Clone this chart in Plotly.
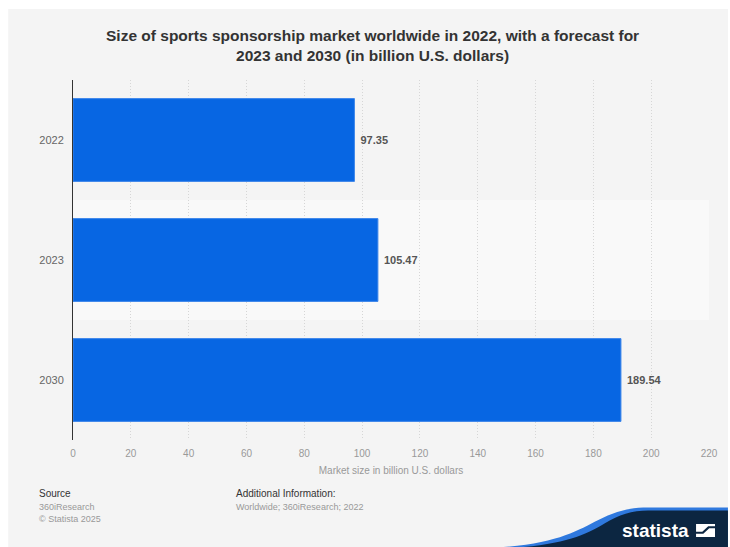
import plotly.graph_objects as go

# Market size data (billion U.S. dollars)
years = ["2022", "2023", "2030"]
market_size = [97.35, 105.47, 189.54]
x_ticks = [0, 20, 40, 60, 80, 100, 120, 140, 160, 180, 200, 220]

W, H = 730, 547
ML, MR, MT, MB = 73, 19, 80, 107
PW, PH = W - ML - MR, H - MT - MB


def px(x):
    return (x - ML) / PW


def py(y):
    return (H - MB - y) / PH


FONT = "Liberation Sans, Arial, sans-serif"
BG = "#f4f4f4"
NAVY = "#0c2641"

fig = go.Figure()
fig.add_trace(go.Bar(
    y=years,
    x=market_size,
    orientation="h",
    width=0.69,
    marker=dict(color="#0766e3", line=dict(color="#3d86ea", width=1)),
    text=market_size,
    texttemplate="<b> %{x:.2f}</b>",
    textposition="outside",
    textfont=dict(family=FONT, size=11, color="#555555"),
    cliponaxis=False,
    hoverinfo="skip",
))

shapes = []
# page background (white margin on top and left)
shapes.append(dict(type="rect", xref="paper", yref="paper", layer="below",
                   x0=px(8), x1=px(W), y0=py(H), y1=py(9),
                   fillcolor=BG, line=dict(width=0)))
# lighter band behind the middle category
shapes.append(dict(type="rect", xref="paper", yref="y", layer="below",
                   x0=0, x1=1, y0=0.5, y1=1.5,
                   fillcolor="#f9f9f9", line=dict(width=0)))

# statista logo swoosh
blue_path = (f"M {px(505)},{py(547)} "
             f"C {px(560)},{py(543)} {px(580)},{py(530)} {px(600)},{py(520)} "
             f"C {px(615)},{py(512)} {px(630)},{py(508)} {px(645)},{py(507.5)} "
             f"L {px(730)},{py(507.5)} L {px(730)},{py(547)} Z")
navy_path = (f"M {px(525)},{py(547)} "
             f"C {px(572)},{py(543)} {px(592)},{py(532)} {px(607)},{py(523)} "
             f"C {px(620)},{py(515)} {px(634)},{py(510.5)} {px(650)},{py(510.5)} "
             f"L {px(730)},{py(510.5)} L {px(730)},{py(547)} Z")
shapes.append(dict(type="path", xref="paper", yref="paper", path=blue_path,
                   fillcolor="#2f79de", line=dict(width=0)))
shapes.append(dict(type="path", xref="paper", yref="paper", path=navy_path,
                   fillcolor=NAVY, line=dict(width=0)))
# logo icon
shapes.append(dict(type="rect", xref="paper", yref="paper",
                   x0=px(698), x1=px(717), y0=py(537), y1=py(524),
                   fillcolor="#ffffff", line=dict(width=0)))
icon_cut = (f"M {px(698)},{py(533)} L {px(705)},{py(533)} L {px(711)},{py(527.5)} "
            f"L {px(717)},{py(527.5)} L {px(717)},{py(527)} L {px(710.5)},{py(527)} "
            f"L {px(704.5)},{py(532.5)} L {px(698)},{py(532.5)} Z")
shapes.append(dict(type="path", xref="paper", yref="paper", path=icon_cut,
                   fillcolor=NAVY, line=dict(color=NAVY, width=1.5)))

annotations = [
    dict(text="<b>Size of sports sponsorship market worldwide in 2022, with a forecast for"
              "<br>2023 and 2030 (in billion U.S. dollars)</b>",
         x=px(373), y=py(45.5), xref="paper", yref="paper", showarrow=False,
         xanchor="center", yanchor="middle", align="center",
         font=dict(family=FONT, size=15.5, color="#333333")),
    dict(text="Source", x=px(37), y=py(494), xref="paper", yref="paper",
         showarrow=False, xanchor="left", yanchor="middle",
         font=dict(family=FONT, size=10, color="#333333")),
    dict(text="360iResearch", x=px(37), y=py(507), xref="paper", yref="paper",
         showarrow=False, xanchor="left", yanchor="middle",
         font=dict(family=FONT, size=9, color="#999999")),
    dict(text="© Statista 2025", x=px(37), y=py(519), xref="paper", yref="paper",
         showarrow=False, xanchor="left", yanchor="middle",
         font=dict(family=FONT, size=9, color="#999999")),
    dict(text="Additional Information:", x=px(235), y=py(494), xref="paper", yref="paper",
         showarrow=False, xanchor="left", yanchor="middle",
         font=dict(family=FONT, size=10, color="#333333")),
    dict(text="Worldwide; 360iResearch; 2022", x=px(235), y=py(507), xref="paper",
         yref="paper", showarrow=False, xanchor="left", yanchor="middle",
         font=dict(family=FONT, size=9, color="#999999")),
    dict(text="<b>statista</b>", x=px(693), y=py(530), xref="paper", yref="paper",
         showarrow=False, xanchor="right", yanchor="middle",
         font=dict(family=FONT, size=19, color="#ffffff")),
]

fig.update_layout(
    width=W, height=H,
    margin=dict(l=ML, r=MR, t=MT, b=MB),
    paper_bgcolor="#ffffff",
    plot_bgcolor="rgba(0,0,0,0)",
    showlegend=False,
    bargap=0.31,
    shapes=shapes,
    annotations=annotations,
    xaxis=dict(
        range=[0, 220],
        tickvals=x_ticks,
        showgrid=True, gridcolor="#d6d6d6", griddash="1px,2px", gridwidth=1,
        zeroline=False, showline=False, ticks="", ticklabelstandoff=6,
        tickfont=dict(family=FONT, size=10, color="#999999"),
        title=dict(text="Market size in billion U.S. dollars", standoff=8,
                   font=dict(family=FONT, size=10, color="#999999")),
        fixedrange=True,
    ),
    yaxis=dict(
        categoryorder="array", categoryarray=years, autorange="reversed",
        showgrid=False, zeroline=False,
        showline=True, linecolor="#333333", linewidth=1,
        ticks="", ticklabelstandoff=6,
        tickfont=dict(family=FONT, size=11, color="#666666"),
        fixedrange=True,
    ),
)

fig.write_html("out.html")
